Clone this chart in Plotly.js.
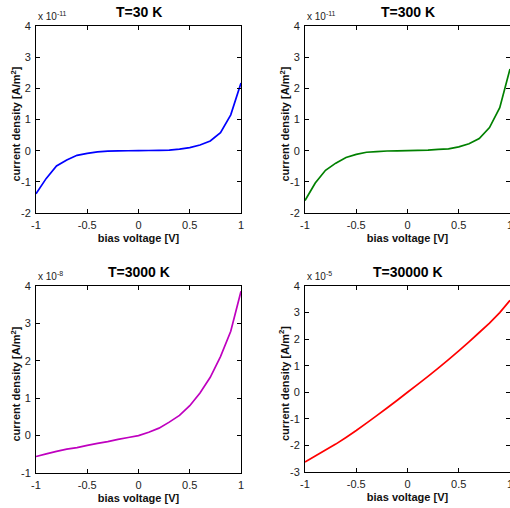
<!DOCTYPE html>
<html>
<head>
<meta charset="utf-8">
<script src="https://cdn.plot.ly/plotly-3.0.1.min.js"></script>
<style>
  html, body { margin: 0; padding: 0; background: #fff; }
  #chart { width: 510px; height: 508px; }
</style>
</head>
<body>
<div id="chart"></div>
<script>
// Bias voltage sweep, V
const biasVoltage = [-1, -0.9, -0.8, -0.7, -0.6, -0.5, -0.4, -0.3, -0.2, -0.1,
                     0, 0.1, 0.2, 0.3, 0.4, 0.5, 0.6, 0.7, 0.8, 0.9, 1];

// Current density at each temperature (in units of the panel's exponent)
const j30K = [-1.38, -0.89, -0.49, -0.30, -0.15, -0.085, -0.04, -0.015, -0.005, -0.002,
              0, 0.005, 0.01, 0.02, 0.05, 0.10, 0.18, 0.31, 0.58, 1.15, 2.17];
const j300K = [-1.60, -1.04, -0.63, -0.40, -0.22, -0.12, -0.05, -0.03, -0.01, -0.005,
               0, 0.01, 0.02, 0.04, 0.06, 0.12, 0.22, 0.39, 0.74, 1.38, 2.62];
const j3000K = [-0.56, -0.49, -0.42, -0.36, -0.32, -0.26, -0.21, -0.16, -0.10, -0.05,
                0, 0.09, 0.20, 0.36, 0.54, 0.80, 1.14, 1.56, 2.11, 2.79, 3.86];
const j30000K = [-2.62, -2.40, -2.17, -1.95, -1.70, -1.44, -1.16, -0.88, -0.59, -0.30,
                 0.0, 0.30, 0.60, 0.91, 1.23, 1.56, 1.90, 2.25, 2.60, 3.00, 3.46];

const panelTitles = ['T=30 K', 'T=300 K', 'T=3000 K', 'T=30000 K'];
const exponents = ['-11', '-11', '-8', '-5'];
const seriesData = [j30K, j300K, j3000K, j30000K];
const lineColors = ['#0000ff', '#008000', '#bf00bf', '#ff0000'];
const yRanges = [[-2, 4], [-2, 4], [-1, 4], [-3, 4]];
const xTicks = [-1, -0.5, 0, 0.5, 1];
const xLabel = 'bias voltage [V]';
const yLabel = 'current density [A/m<sup>2</sup>]';

const W = 510, H = 508;
// Plot-area boxes in pixels: [left, right, top, bottom]
const boxes = [
  [36, 241, 26, 213],
  [305, 510, 26, 213],
  [36, 241, 286, 473],
  [305, 510, 286, 472]
];

const FONT = 'Liberation Sans, Arial, Helvetica, sans-serif';

const traces = [];
const layout = {
  width: W, height: H,
  margin: {l: 0, r: 0, t: 0, b: 0},
  paper_bgcolor: '#fff',
  plot_bgcolor: '#fff',
  showlegend: false,
  font: {family: FONT, size: 11, color: '#111'},
  annotations: []
};

boxes.forEach((b, i) => {
  const n = i + 1;
  const sfx = n === 1 ? '' : String(n);
  traces.push({
    type: 'scatter', mode: 'lines',
    x: biasVoltage, y: seriesData[i],
    xaxis: 'x' + sfx, yaxis: 'y' + sfx,
    line: {color: lineColors[i], width: 1.7, simplify: false},
    hoverinfo: 'skip'
  });
  const common = {
    showline: true, linecolor: '#000', linewidth: 1, mirror: 'ticks',
    ticks: 'inside', ticklen: 4, tickcolor: '#000', tickwidth: 1,
    showgrid: false, zeroline: false, fixedrange: true,
    ticklabeloverflow: 'allow',
    tickfont: {family: FONT, size: 11, color: '#222'}
  };
  layout['xaxis' + sfx] = Object.assign({}, common, {
    domain: [b[0] / W, b[1] / W],
    anchor: 'y' + sfx,
    range: [-1, 1],
    tickvals: xTicks,
    ticktext: xTicks.map(v => String(v)),
    ticklabelstandoff: 2,
    title: {text: xLabel, standoff: 4,
            font: {family: FONT, size: 11, color: '#111', weight: 'bold'}}
  });
  const yr = yRanges[i];
  const yt = [];
  for (let v = yr[0]; v <= yr[1]; v++) yt.push(v);
  layout['yaxis' + sfx] = Object.assign({}, common, {
    domain: [1 - b[3] / H, 1 - b[2] / H],
    anchor: 'x' + sfx,
    range: yr,
    tickvals: yt,
    ticktext: yt.map(v => String(v)),
    ticklabelstandoff: 2
  });
  // Vertical axis label, set close to the tick labels
  layout.annotations.push({
    xref: 'paper', yref: 'paper',
    x: (b[0] - 21) / W, y: 1 - ((b[2] + b[3]) / 2 + 5) / H,
    xanchor: 'center', yanchor: 'middle', textangle: -90,
    text: yLabel, showarrow: false,
    font: {family: FONT, size: 11, color: '#111', weight: 'bold'}
  });
  // Panel title
  layout.annotations.push({
    xref: 'paper', yref: 'paper',
    x: (b[0] + b[1]) / 2 / W, y: 1 - (b[2] - 4) / H,
    xanchor: 'center', yanchor: 'bottom',
    text: panelTitles[i], showarrow: false,
    font: {family: FONT, size: 14, color: '#000', weight: 'bold'}
  });
  // Axis exponent multiplier
  layout.annotations.push({
    xref: 'paper', yref: 'paper',
    x: b[0] / W, y: 1 - (b[2] - 2) / H,
    xanchor: 'left', yanchor: 'bottom',
    text: 'x 10<sup>' + exponents[i] + '</sup>', showarrow: false,
    font: {family: FONT, size: 10, color: '#222'}
  });
});

Plotly.newPlot('chart', traces, layout, {displayModeBar: false, staticPlot: true});
</script>
</body>
</html>
